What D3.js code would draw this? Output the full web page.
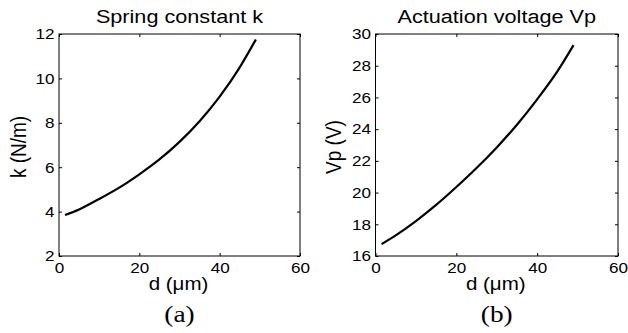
<!DOCTYPE html>
<html>
<head>
<meta charset="utf-8">
<script src="https://cdn.jsdelivr.net/npm/d3@7"></script>
<style>
  body { margin: 0; background: #fff; }
  svg text { font-family: "Liberation Sans", Arial, sans-serif; fill: #000; }
  .axis path, .axis line { stroke: #000; }
  svg text.cap { font-family: "Liberation Serif", "Times New Roman", serif; }
</style>
</head>
<body>
<svg id="chart" width="628" height="333"></svg>
<script>
// d in micrometres
var dVals = [1.5, 5, 10, 15, 20, 25, 30, 35, 40, 45, 49];
var kVals = [3.85, 4.1, 4.57, 5.08, 5.68, 6.35, 7.14, 8.07, 9.18, 10.5, 11.75];
var vpVals = [16.75, 17.3, 18.2, 19.22, 20.35, 21.55, 22.85, 24.28, 25.88, 27.64, 29.3];
var xTicks = [0, 20, 40, 60];
var kTicks = [2, 4, 6, 8, 10, 12];
var vpTicks = [16, 18, 20, 22, 24, 26, 28, 30];

// the source picture is a bit wider than tall, so text is stretched sideways
var SX = 1.14;

var svg = d3.select("#chart");

var panels = [
  {left: 59, right: 300, title: "Spring constant k", ylab: "k (N/m)", cap: "(a)",
   ys: kVals, ydom: [2, 12], yticks: kTicks, ylabX: 26},
  {left: 375.5, right: 618, title: "Actuation voltage Vp", ylab: "Vp (V)", cap: "(b)",
   ys: vpVals, ydom: [16, 30], yticks: vpTicks, ylabX: 341}
];
var plotTop = 34, plotBottom = 256;

function label(g, x, y, txt, size, cls) {
  return g.append("text")
    .attr("class", cls || null)
    .attr("transform", "translate(" + x + "," + y + ") scale(" + SX + ",1)")
    .attr("text-anchor", "middle")
    .style("font-size", size + "px")
    .text(txt);
}

panels.forEach(function(p) {
  var x = d3.scaleLinear().domain([0, 60]).range([p.left, p.right]);
  var y = d3.scaleLinear().domain(p.ydom).range([plotBottom, plotTop]);
  var g = svg.append("g");

  // box
  g.append("rect")
    .attr("x", p.left).attr("y", plotTop)
    .attr("width", p.right - p.left).attr("height", plotBottom - plotTop)
    .attr("fill", "none").attr("stroke", "#000").attr("stroke-width", 1);

  // inward ticks on all four sides
  var ax = [
    d3.axisBottom(x).tickValues(xTicks).tickSize(-3).tickPadding(6),
    d3.axisTop(x).tickValues(xTicks).tickSize(-3).tickFormat(""),
    d3.axisLeft(y).tickValues(p.yticks).tickSize(-3).tickPadding(4.5),
    d3.axisRight(y).tickValues(p.yticks).tickSize(-3).tickFormat("")
  ];
  var pos = ["translate(0," + plotBottom + ")", "translate(0," + plotTop + ")",
             "translate(" + p.left + ",0)", "translate(" + p.right + ",0)"];
  ax.forEach(function(a, i) {
    var ag = g.append("g").attr("class", "axis").attr("transform", pos[i]).call(a);
    ag.select(".domain").remove();
    ag.selectAll("text").style("font-size", "15px")
      .attr("transform", function() {
        var tx = +d3.select(this).attr("x") || 0;
        return "translate(" + tx + ",0) scale(" + SX + ",1) translate(" + (-tx) + ",0)";
      });
  });

  var line = d3.line()
    .x(function(d, i) { return x(dVals[i]); })
    .y(function(d) { return y(d); })
    .curve(d3.curveMonotoneX);
  g.append("path").datum(p.ys)
    .attr("d", line)
    .attr("fill", "none").attr("stroke", "#000").attr("stroke-width", 2.2);

  var cx = (p.left + p.right) / 2;
  label(g, cx, 22.5, p.title, 19);
  label(g, cx - 1, 290, "d (μm)", 18);
  label(g, cx, 322, p.cap, 24, "cap");
  g.append("text")
    .attr("transform", "translate(" + p.ylabX + "," + ((plotTop + plotBottom) / 2 + 2) +
          ") scale(" + SX + ",1) rotate(-90)")
    .attr("text-anchor", "middle")
    .style("font-size", "19px").text(p.ylab);
});
</script>
</body>
</html>
